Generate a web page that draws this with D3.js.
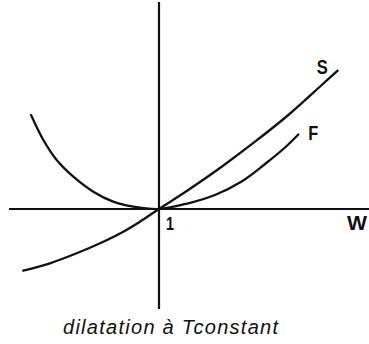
<!DOCTYPE html>
<html>
<head>
<meta charset="utf-8">
<script src="https://cdn.jsdelivr.net/npm/d3@7"></script>
<style>
  html, body { margin: 0; padding: 0; background: #fff; }
  svg { display: block; }
  text { font-family: "Liberation Sans", "Noto Sans", sans-serif; fill: #111; }
</style>
</head>
<body>
<svg id="chart" width="369" height="344"></svg>
<script>
// Isothermal dilatation: S and F as functions of W (W = 1 at the origin)
const wF = [0.147, 0.229, 0.318, 0.429, 0.562, 0.695, 0.829, 1.0, 1.195, 1.373, 1.551, 1.707, 1.84, 1.929];
const vF = [0.94, 0.69, 0.49, 0.323, 0.173, 0.073, 0.023, 0, 0.057, 0.14, 0.275, 0.45, 0.615, 0.745];
const wS = [0.095, 0.273, 0.451, 0.607, 0.762, 0.873, 1.0, 1.195, 1.418, 1.64, 1.862, 2.085, 2.191];
const vS = [-0.617, -0.543, -0.443, -0.343, -0.227, -0.127, 0, 0.19, 0.423, 0.673, 0.94, 1.24, 1.383];
const curveNames = ["S", "F"];
const axisLabelX = "W";
const originLabel = "1";
const title = "dilatation à Tconstant";

const svg = d3.select("#chart");
const x = d3.scaleLinear().domain([0, 2.4]).range([9, 369]);
const y = d3.scaleLinear().domain([-1.0, 2.07]).range([309, 2]);
const W0 = 1;

// axes crossing at W = 1, value 0
svg.append("line")
  .attr("x1", x(0)).attr("x2", x(2.4))
  .attr("y1", y(0)).attr("y2", y(0))
  .attr("stroke", "#111").attr("stroke-width", 2.2);
svg.append("line")
  .attr("x1", x(W0)).attr("x2", x(W0))
  .attr("y1", y(2.07)).attr("y2", y(-1.0))
  .attr("stroke", "#111").attr("stroke-width", 2.2);

const line = d3.line()
  .x(d => x(d[0])).y(d => y(d[1]))
  .curve(d3.curveCatmullRom.alpha(0.5));

const series = [
  { name: curveNames[0], pts: d3.zip(wS, vS) },
  { name: curveNames[1], pts: d3.zip(wF, vF) }
];

svg.selectAll("path.curve")
  .data(series)
  .join("path")
  .attr("class", "curve")
  .attr("d", d => line(d.pts))
  .attr("fill", "none")
  .attr("stroke", "#111")
  .attr("stroke-width", 2.3)
  .attr("stroke-linecap", "round");

// curve labels near their upper-right ends
const lastS = series[0].pts[series[0].pts.length - 1];
const lastF = series[1].pts[series[1].pts.length - 1];
svg.append("text").text(curveNames[0])
  .attr("x", x(lastS[0]) - 21).attr("y", y(lastS[1]) + 3)
  .attr("font-size", 21).attr("font-weight", "bold")
  .attr("textLength", 11).attr("lengthAdjust", "spacingAndGlyphs");
svg.append("text").text(curveNames[1])
  .attr("x", x(lastF[0]) + 10).attr("y", y(lastF[1]) + 5)
  .attr("font-size", 21).attr("font-weight", "bold")
  .attr("textLength", 10).attr("lengthAdjust", "spacingAndGlyphs");

svg.append("text").text(axisLabelX)
  .attr("x", 347).attr("y", y(0) + 21)
  .attr("font-size", 21).attr("font-weight", "bold")
  .attr("textLength", 20).attr("lengthAdjust", "spacingAndGlyphs");
svg.append("text").text(originLabel)
  .attr("x", x(W0) + 7).attr("y", y(0) + 21)
  .attr("font-size", 18).attr("font-weight", "bold")
  .attr("textLength", 8).attr("lengthAdjust", "spacingAndGlyphs");

svg.append("text").text(title)
  .attr("x", 63).attr("y", 334)
  .attr("font-size", 20).attr("font-style", "italic")
  .attr("textLength", 215).attr("lengthAdjust", "spacing");
</script>
</body>
</html>
